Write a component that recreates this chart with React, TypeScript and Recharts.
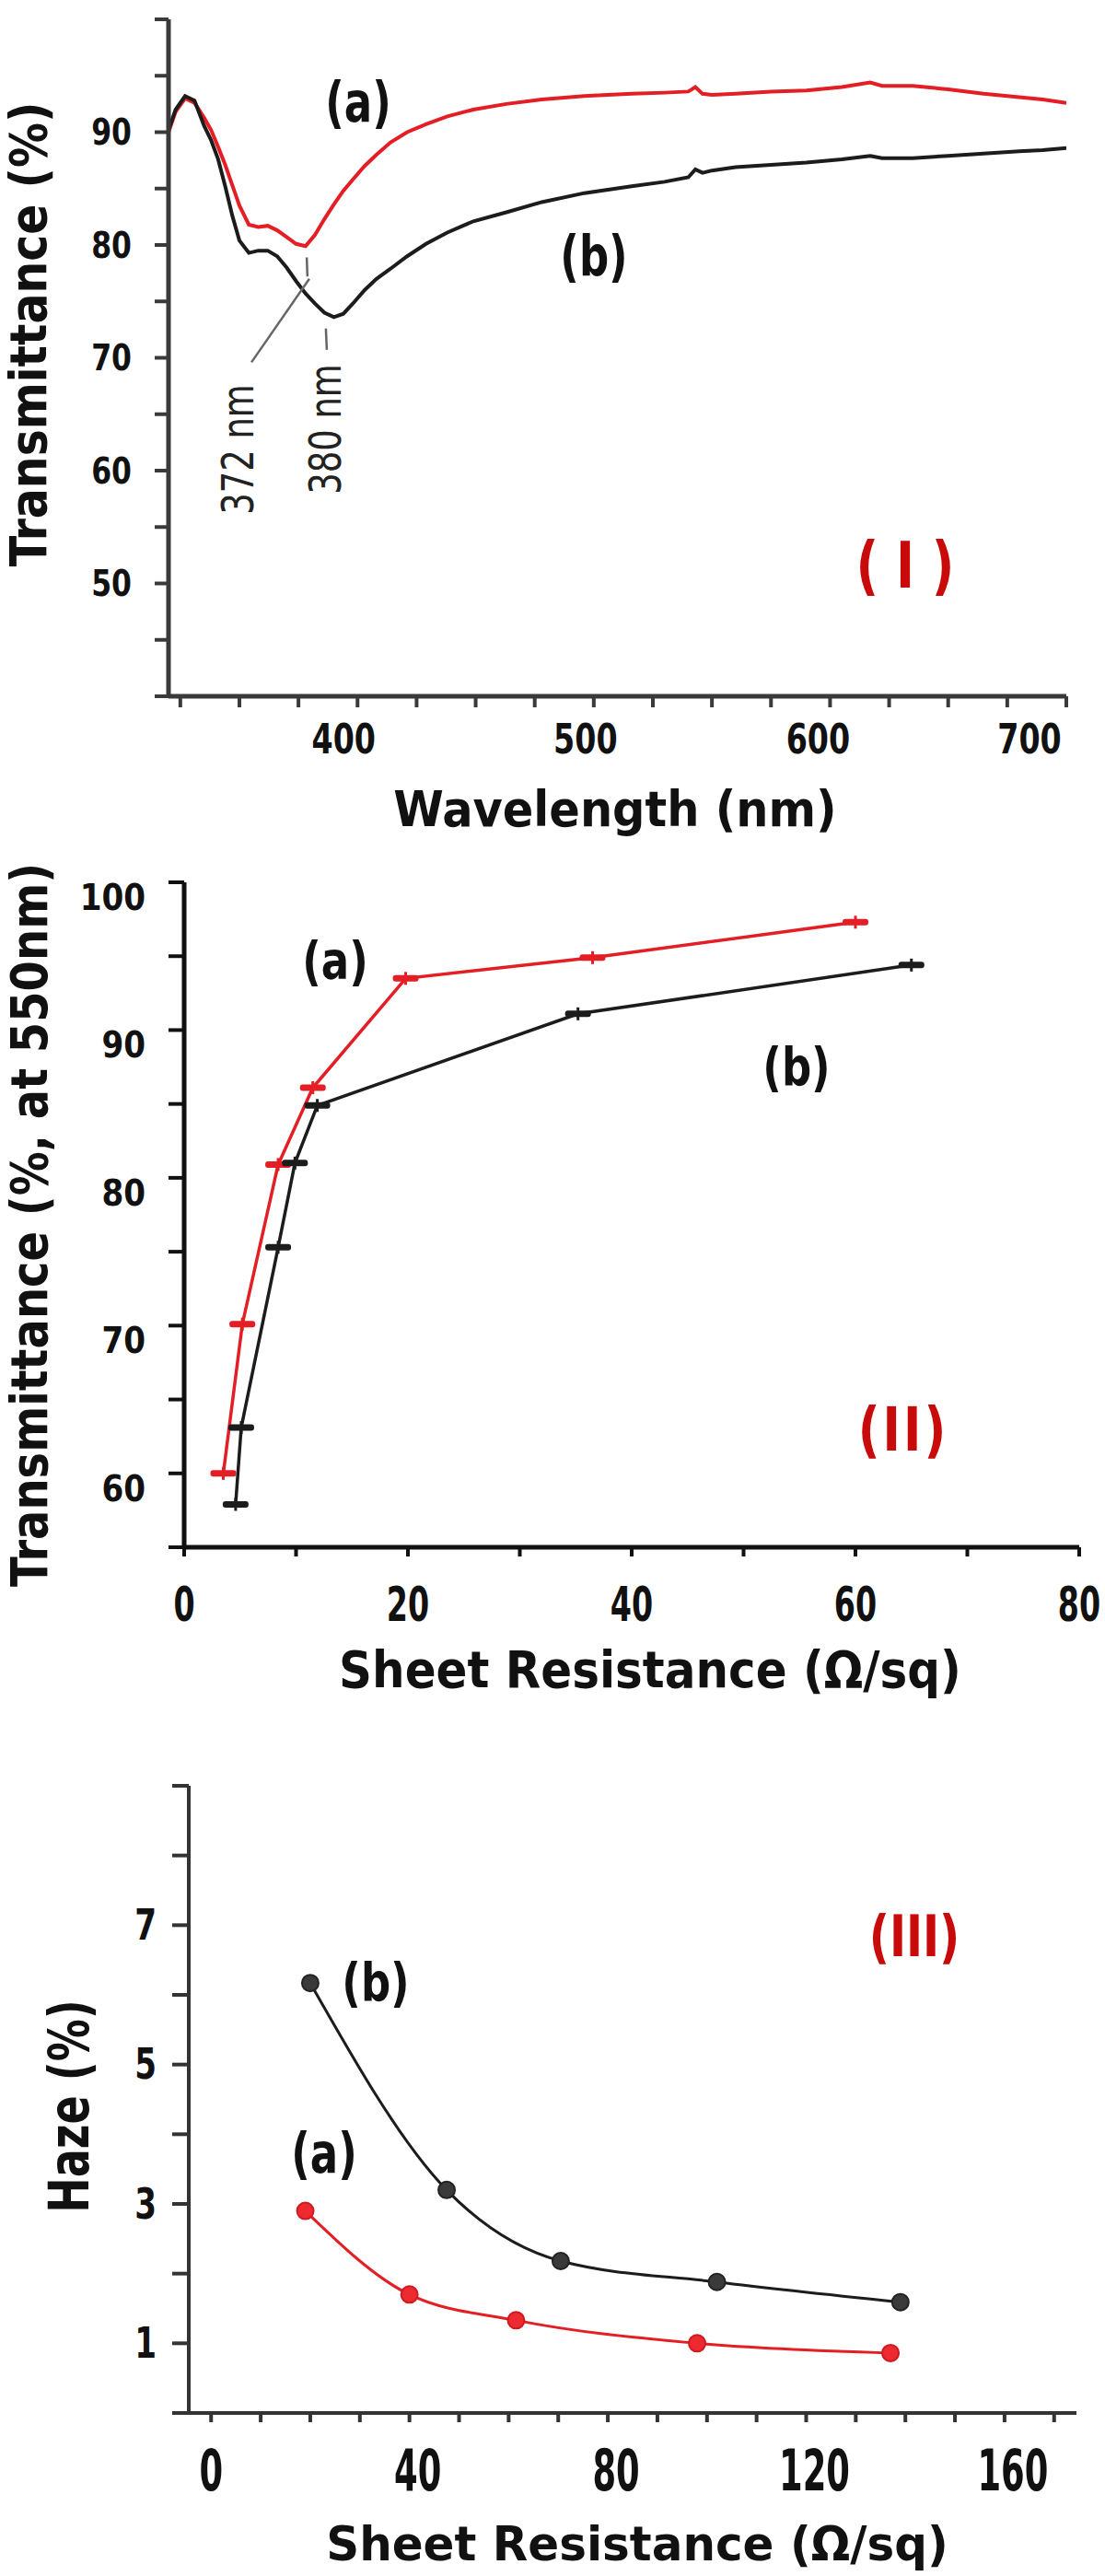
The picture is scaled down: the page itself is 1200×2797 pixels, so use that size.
import React from 'react';
import { LineChart, Line, XAxis, YAxis, ReferenceLine } from 'recharts';

// ---------- Panel I : transmittance spectra ----------
const wavelength = [320, 323, 327, 331, 335, 338, 341, 344, 347, 350, 354, 358, 362, 366, 370, 374, 378, 382, 386, 390, 394, 398, 403, 408, 414, 421, 429, 438, 449, 463, 478, 496, 516, 530, 540, 543, 546, 550, 560, 575, 590, 605, 617, 622, 635, 650, 665, 680, 690, 700];
const spectrumA = [90.0, 91.8, 93.0, 92.6, 91.3, 90.2, 88.7, 87.1, 85.3, 83.5, 81.8, 81.6, 81.7, 81.3, 80.7, 80.1, 79.9, 80.9, 82.3, 83.6, 84.8, 85.8, 87.0, 88.0, 89.1, 90.0, 90.7, 91.4, 92.0, 92.5, 92.9, 93.2, 93.4, 93.5, 93.6, 94.0, 93.4, 93.3, 93.4, 93.6, 93.7, 94.0, 94.4, 94.1, 94.1, 93.8, 93.4, 93.1, 92.9, 92.6];
const spectrumB = [90.2, 92.0, 93.2, 92.8, 90.6, 89.3, 87.6, 85.2, 82.6, 80.4, 79.3, 79.5, 79.5, 79.0, 78.0, 76.8, 75.7, 74.8, 74.0, 73.6, 73.9, 74.8, 76.0, 77.0, 77.9, 79.0, 80.1, 81.1, 82.1, 82.9, 83.8, 84.6, 85.2, 85.6, 86.0, 86.7, 86.4, 86.6, 86.9, 87.1, 87.3, 87.6, 87.9, 87.7, 87.7, 87.9, 88.1, 88.3, 88.4, 88.6];
const wlTicks = [325, 350, 375, 400, 425, 450, 475, 500, 525, 550, 575, 600, 625, 650, 675, 700];
const wlLabels = [400, 500, 600, 700];
const tTicksI = [40, 45, 50, 55, 60, 65, 70, 75, 80, 85, 90, 95, 100];
const tLabelsI = [50, 60, 70, 80, 90];

// ---------- Panel II : transmittance vs sheet resistance ----------
const rsA2 = [3.5, 5.2, 8.4, 11.5, 19.8, 36.5, 60];
const tA2 = [60, 70.1, 80.9, 86.1, 93.5, 94.9, 97.3];
const rsB2 = [4.6, 5.1, 8.4, 9.9, 11.9, 35.2, 65];
const tB2 = [57.9, 63.1, 75.3, 81.0, 84.9, 91.1, 94.4];
const rsTicks2 = [0, 10, 20, 30, 40, 50, 60, 70, 80];
const rsLabels2 = [0, 20, 40, 60, 80];
const tTicks2 = [55, 60, 65, 70, 75, 80, 85, 90, 95, 100];
const tLabels2 = [60, 70, 80, 90, 100];

// ---------- Panel III : haze vs sheet resistance ----------
const rsA3 = [19, 40, 61.5, 98, 137];
const hazeA3 = [2.9, 1.7, 1.33, 1.0, 0.86];
const rsB3 = [20, 47.5, 70.5, 102, 139];
const hazeB3 = [6.17, 3.2, 2.18, 1.88, 1.59];
const rsTicks3 = [0, 10, 20, 30, 40, 50, 60, 70, 80, 90, 100, 110, 120, 130, 140, 150, 160, 170];
const rsLabels3 = [0, 40, 80, 120, 160];
const hTicks3 = [0, 1, 2, 3, 4, 5, 6, 7, 8, 9];
const hLabels3 = [1, 3, 5, 7];

const RED = '#e31e24';
const BLACK = '#1c1c1c';
const DARKRED = '#c80a0a';
const COND = "'DejaVu Sans Condensed', 'DejaVu Sans', sans-serif";
const BOLDF = "'DejaVu Sans', sans-serif";

const pairs = (xs: number[], ys: number[]) => xs.map((x, i) => ({ x, y: ys[i] }));

type TickCfg = {
  labels: number[];
  size: number;
  sy: number;
  anchor: 'start' | 'middle' | 'end';
  dx?: number;
  dy?: number;
  dxMap?: Record<number, number>;
};

const tickRenderer = (cfg: TickCfg) => (props: any) => {
  const v = props && props.payload ? props.payload.value : undefined;
  if (cfg.labels.indexOf(v) < 0) return <g />;
  const dx = cfg.dxMap && cfg.dxMap[v] != null ? cfg.dxMap[v] : cfg.dx || 0;
  const x = props.x + dx;
  const y = props.y + (cfg.dy || 0);
  return (
    <text
      transform={`translate(${x},${y}) scale(1,${cfg.sy})`}
      x={0}
      y={0}
      textAnchor={cfg.anchor}
      dominantBaseline="central"
      fontFamily={COND}
      style={{ fontStretch: 'condensed' }}
      fontWeight="bold"
      fontSize={cfg.size}
      fill="#111"
    >
      {String(v)}
    </text>
  );
};

const DashMark = (p: any) => {
  const { cx, cy, color, index } = p;
  if (cx == null || cy == null) return <g key={index} />;
  return (
    <g key={index}>
      <rect x={cx - 14} y={cy - 3.5} width={28} height={7} rx={3} fill={color} />
      <rect x={cx - 1.5} y={cy - 7} width={3} height={14} fill={color} />
    </g>
  );
};

type TProps = {
  x: number; y: number; text: string; size: number; sx?: number; sy?: number; rot?: number;
  fill?: string; family?: string; weight?: string; ls?: number; cond?: boolean;
};
const T = ({ x, y, text, size, sx = 1, sy = 1, rot = 0, fill = '#111', family = BOLDF, weight = 'bold', ls = 0, cond = false }: TProps) => (
  <text
    transform={`translate(${x},${y}) rotate(${rot}) scale(${sx},${sy})`}
    x={0}
    y={0}
    textAnchor="middle"
    dominantBaseline="central"
    fontFamily={family}
    fontWeight={weight}
    fontSize={size}
    fill={fill}
    letterSpacing={ls}
    style={cond ? { fontStretch: 'condensed' } : undefined}
  >
    {text}
  </text>
);

const FRAME1 = '#3a3a3a';

function PanelI() {
  return (
    <LineChart width={1200} height={900} margin={{ top: 21, right: 42, left: 0, bottom: 0 }}>
      <XAxis
        dataKey="x"
        type="number"
        domain={[320, 700]}
        allowDataOverflow
        ticks={wlTicks}
        interval={0}
        height={144}
        tickSize={12}
        tickMargin={35}
        axisLine={{ stroke: FRAME1, strokeWidth: 5 }}
        tickLine={{ stroke: FRAME1, strokeWidth: 4 }}
        tick={tickRenderer({ labels: wlLabels, size: 37, sy: 1.22, anchor: 'middle', dxMap: { 400: -15, 500: -9, 600: -13, 700: -40 } })}
      />
      <XAxis xAxisId="top" orientation="top" type="number" domain={[320, 700]} allowDataOverflow height={0} tick={false} tickLine={false} axisLine={{ stroke: FRAME1, strokeWidth: 5 }} />
      <YAxis
        type="number"
        domain={[40, 100]}
        allowDataOverflow
        ticks={tTicksI}
        interval={0}
        width={183}
        tickSize={15}
        tickMargin={25}
        axisLine={{ stroke: FRAME1, strokeWidth: 5 }}
        tickLine={{ stroke: FRAME1, strokeWidth: 4 }}
        tick={tickRenderer({ labels: tLabelsI, size: 35, sy: 1.14, anchor: 'end' })}
      />
      <YAxis yAxisId="right" orientation="right" type="number" domain={[40, 100]} width={0} tick={false} tickLine={false} axisLine={{ stroke: '#555', strokeWidth: 5 }} />
      <Line data={pairs(wavelength, spectrumA)} dataKey="y" type="linear" stroke={RED} strokeWidth={4} dot={false} isAnimationActive={false} />
      <Line data={pairs(wavelength, spectrumB)} dataKey="y" type="linear" stroke={BLACK} strokeWidth={4} dot={false} isAnimationActive={false} />
      <ReferenceLine segment={[{ x: 378.5, y: 78.9 }, { x: 378.8, y: 77.2 }]} stroke="#666" strokeWidth={2.5} ifOverflow="visible" />
      <ReferenceLine segment={[{ x: 379.6, y: 77.0 }, { x: 355.1, y: 69.6 }]} stroke="#666" strokeWidth={2.5} ifOverflow="visible" />
      <ReferenceLine segment={[{ x: 386.6, y: 72.6 }, { x: 387.0, y: 70.7 }]} stroke="#666" strokeWidth={2.5} ifOverflow="visible" />
    </LineChart>
  );
}

function PanelII() {
  return (
    <LineChart width={1200} height={960} margin={{ top: 58, right: 28, left: 0, bottom: 0 }}>
      <XAxis
        dataKey="x"
        type="number"
        domain={[0, 80]}
        allowDataOverflow
        ticks={rsTicks2}
        interval={0}
        height={180}
        tickSize={10}
        tickMargin={52}
        axisLine={{ stroke: '#111', strokeWidth: 5 }}
        tickLine={{ stroke: '#111', strokeWidth: 4 }}
        tick={tickRenderer({ labels: rsLabels2, size: 37, sy: 1.4, anchor: 'middle' })}
      />
      <XAxis xAxisId="top" orientation="top" type="number" domain={[0, 80]} allowDataOverflow height={0} tick={false} tickLine={false} axisLine={{ stroke: '#555', strokeWidth: 4 }} />
      <YAxis
        type="number"
        domain={[55, 100]}
        allowDataOverflow
        ticks={tTicks2}
        interval={0}
        width={200}
        tickSize={17}
        tickMargin={25}
        axisLine={{ stroke: '#111', strokeWidth: 5 }}
        tickLine={{ stroke: '#111', strokeWidth: 4 }}
        tick={tickRenderer({ labels: tLabels2, size: 38, sy: 1.05, anchor: 'end', dy: 16 })}
      />
      <YAxis yAxisId="right" orientation="right" type="number" domain={[55, 100]} width={0} tick={false} tickLine={false} axisLine={{ stroke: '#555', strokeWidth: 4 }} />
      <Line data={pairs(rsA2, tA2)} dataKey="y" type="linear" stroke={RED} strokeWidth={3.5} dot={(p: any) => <DashMark key={p.index} {...p} color={RED} />} isAnimationActive={false} />
      <Line data={pairs(rsB2, tB2)} dataKey="y" type="linear" stroke={BLACK} strokeWidth={3.5} dot={(p: any) => <DashMark key={p.index} {...p} color={BLACK} />} isAnimationActive={false} />
    </LineChart>
  );
}

function PanelIII() {
  return (
    <LineChart width={1200} height={917} margin={{ top: 59, right: 31, left: 0, bottom: 0 }}>
      <XAxis
        dataKey="x"
        type="number"
        domain={[-4.5, 174.5]}
        allowDataOverflow
        ticks={rsTicks3}
        interval={0}
        height={177}
        tickSize={10}
        tickMargin={52}
        axisLine={{ stroke: '#333', strokeWidth: 4 }}
        tickLine={{ stroke: '#333', strokeWidth: 4 }}
        tick={tickRenderer({ labels: rsLabels3, size: 41, sy: 1.5, anchor: 'middle', dx: 9, dxMap: { 0: 0 } })}
      />
      <XAxis xAxisId="top" orientation="top" type="number" domain={[-4.5, 174.5]} allowDataOverflow height={0} tick={false} tickLine={false} axisLine={{ stroke: '#333', strokeWidth: 4 }} />
      <YAxis
        type="number"
        domain={[0, 9]}
        allowDataOverflow
        ticks={hTicks3}
        interval={0}
        width={205}
        tickSize={18}
        tickMargin={17}
        axisLine={{ stroke: '#333', strokeWidth: 4 }}
        tickLine={{ stroke: '#333', strokeWidth: 4 }}
        tick={tickRenderer({ labels: hLabels3, size: 38, sy: 1.2, anchor: 'end' })}
      />
      <YAxis yAxisId="right" orientation="right" type="number" domain={[0, 9]} width={0} tick={false} tickLine={false} axisLine={{ stroke: '#333', strokeWidth: 4 }} />
      <Line data={pairs(rsA3, hazeA3)} dataKey="y" type="monotone" stroke={RED} strokeWidth={3} dot={{ r: 9, fill: '#ec2a30', stroke: '#d01a20', strokeWidth: 2 }} isAnimationActive={false} />
      <Line data={pairs(rsB3, hazeB3)} dataKey="y" type="monotone" stroke={BLACK} strokeWidth={3} dot={{ r: 9, fill: '#3a3a3a', stroke: '#222', strokeWidth: 2 }} isAnimationActive={false} />
    </LineChart>
  );
}

function Overlay() {
  return (
    <svg width={1200} height={2797} style={{ position: 'absolute', left: 0, top: 0, pointerEvents: 'none' }}>
      {/* Panel I */}
      <T x={31} y={363} text="Transmittance (%)" size={48} sx={1.02} sy={1.15} rot={-90} />
      <T x={668} y={878} text="Wavelength (nm)" size={50} sx={0.99} sy={1.08} />
      <T x={389} y={111} text="(a)" size={50} sy={1.2} family={COND} cond />
      <T x={645} y={278} text="(b)" size={50} sy={1.2} family={COND} cond />
      <T x={983} y={614} text="( I )" size={60} sy={1.15} family={COND} cond fill={DARKRED} />
      <T x={258} y={488} text="372 nm" size={41} sy={1.15} rot={-90} family={COND} weight="normal" cond fill="#222" />
      <T x={353} y={466} text="380 nm" size={41} sy={1.15} rot={-90} family={COND} weight="normal" cond fill="#222" />
      {/* Panel II */}
      <T x={32} y={1330} text="Transmittance (%, at 550nm)" size={48} sy={1.15} rot={-90} />
      <T x={706} y={1813} text="Sheet Resistance (Ω/sq)" size={50} sy={1.1} />
      <T x={364} y={1043} text="(a)" size={50} sy={1.15} family={COND} cond />
      <T x={865} y={1158} text="(b)" size={50} sy={1.15} family={COND} cond />
      <T x={981} y={1552} text="(II)" size={58} sy={1.15} ls={3} family={COND} cond fill={DARKRED} />
      {/* Panel III */}
      <T x={75} y={2287} text="Haze (%)" size={46} sy={1.3} rot={-90} />
      <T x={692} y={2762} text="Sheet Resistance (Ω/sq)" size={49} sx={1.02} sy={1.04} />
      <T x={408} y={2152} text="(b)" size={50} sy={1.15} family={COND} cond />
      <T x={352} y={2338} text="(a)" size={50} sy={1.2} family={COND} cond />
      <T x={993} y={2103} text="(III)" size={54} sy={1.15} family={COND} cond fill={DARKRED} />
    </svg>
  );
}

export default function App() {
  return (
    <div style={{ position: 'absolute', left: 0, top: 0, width: 1200, height: 2797, background: '#fff', overflow: 'hidden' }}>
      <div style={{ position: 'absolute', left: 0, top: 0 }}>
        <PanelI />
      </div>
      <div style={{ position: 'absolute', left: 0, top: 900 }}>
        <PanelII />
      </div>
      <div style={{ position: 'absolute', left: 0, top: 1880 }}>
        <PanelIII />
      </div>
      <Overlay />
    </div>
  );
}
